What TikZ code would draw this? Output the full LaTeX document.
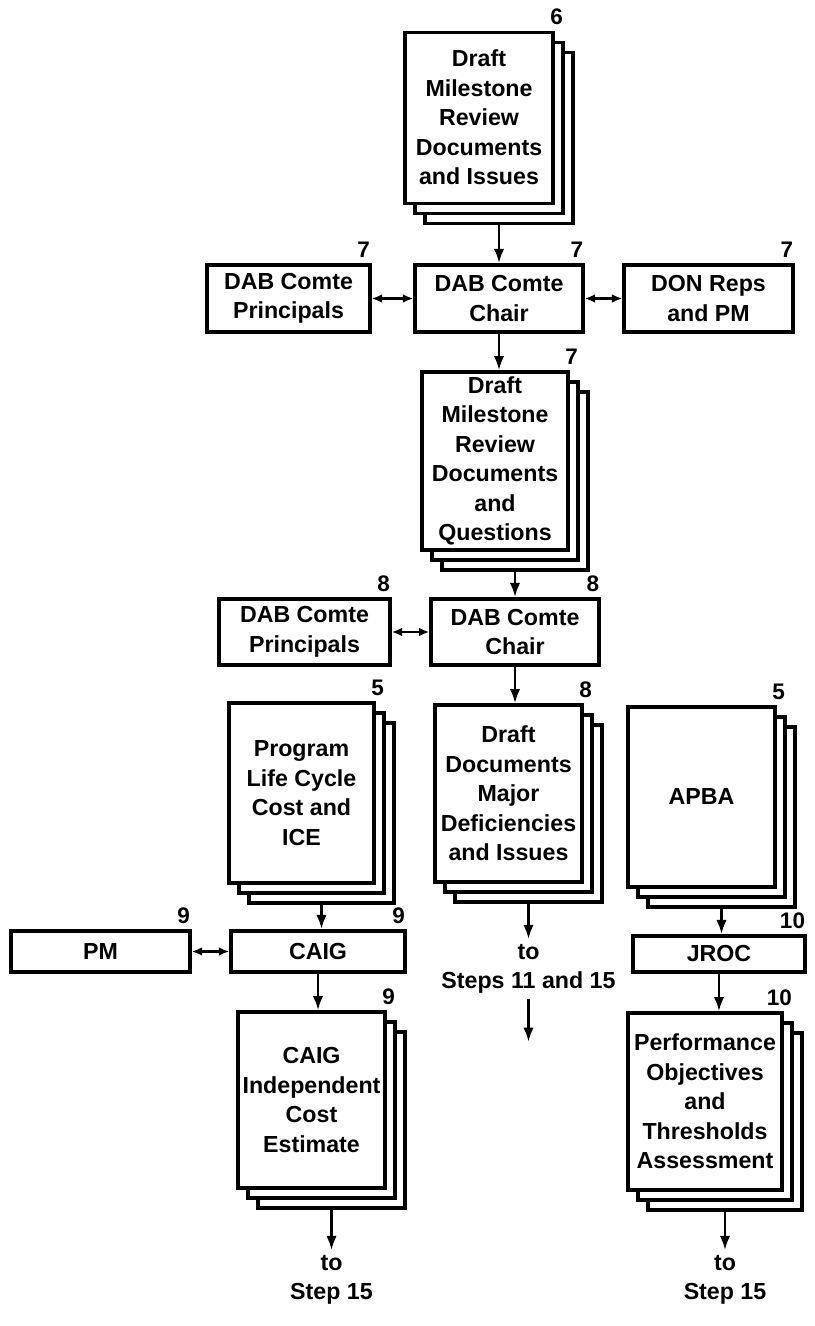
\documentclass[tikz,border=0pt]{standalone}
\usepackage{fontspec}
\setmainfont{Liberation Sans}
\usetikzlibrary{positioning,arrows.meta}

\newcommand{\boxfont}{\bfseries\fontsize{16.5}{21}\selectfont}

\tikzset{
  box/.style={draw, line width=2.4pt, fill=white, align=center, font=\boxfont, inner sep=2pt},
  page/.style={draw, line width=2.2pt, fill=white, align=center, font=\boxfont, inner sep=1pt,
    preaction={draw, fill=white, line width=2.2pt, transform canvas={shift={(0.5,-0.5)}}},
    preaction={draw, fill=white, line width=2.2pt, transform canvas={shift={(0.25,-0.25)}}}},
  numlbl/.style={font=\bfseries\fontsize{16}{19}\selectfont, inner sep=1pt, anchor=south east},
  note/.style={align=center, font=\boxfont},
  flow/.style={-{Latex[length=3.6mm,width=2.6mm]}, line width=2pt},
  link/.style={{Latex[length=2.6mm,width=2.2mm]}-{Latex[length=2.6mm,width=2.2mm]}, line width=2pt}
}

\begin{document}
\begin{tikzpicture}
  \useasboundingbox (0,0) rectangle (20.35,-33.15);

  % step 6 and 7
  \node[page, minimum width=3.7cm, minimum height=4.275cm] (doc6) at (11.975,-2.94)
    {Draft\\Milestone\\Review\\Documents\\and Issues};
  \node[box, minimum width=4.075cm, minimum height=1.675cm] (prin7) at (7.2125,-7.4625) {DAB Comte\\Principals};
  \node[box, minimum width=4.2cm, minimum height=1.675cm] (chair7) at (12.475,-7.4625) {DAB Comte\\Chair};
  \node[box, minimum width=4.225cm, minimum height=1.675cm] (don7) at (17.7125,-7.4625) {DON Reps\\and PM};
  \node[page, minimum width=3.65cm, minimum height=4.45cm] (doc7) at (12.375,-11.525)
    {Draft\\Milestone\\Review\\Documents\\and\\Questions};

  % step 8
  \node[box, minimum width=4.275cm, minimum height=1.65cm] (prin8) at (7.6125,-15.8) {DAB Comte\\Principals};
  \node[box, minimum width=4.2cm, minimum height=1.65cm] (chair8) at (12.875,-15.8) {DAB Comte\\Chair};
  \node[page, minimum width=3.675cm, minimum height=4.425cm] (doc8) at (12.7125,-19.8375)
    {Draft\\Documents\\Major\\Deficiencies\\and Issues};
  \node[note] (to8) at (13.2125,-24.225) {to\\Steps 11 and 15};
  \coordinate (end8) at (13.2125,-26.05);

  % step 9
  \node[page, minimum width=3.625cm, minimum height=4.5cm] (prog5) at (7.5375,-19.825)
    {Program\\Life Cycle\\Cost and\\ICE};
  \node[box, minimum width=4.475cm, minimum height=1.025cm] (pm) at (2.5125,-23.7875) {PM};
  \node[box, minimum width=4.35cm, minimum height=1.025cm] (caig) at (7.95,-23.7875) {CAIG};
  \node[page, minimum width=3.675cm, minimum height=4.4cm] (caigdoc) at (7.7875,-27.5)
    {CAIG\\Independent\\Cost\\Estimate};
  \node[note] (to9) at (8.2875,-32.0) {to\\Step 15};

  % step 10
  \node[page, minimum width=3.675cm, minimum height=4.5cm] (apba) at (17.5375,-19.925) {APBA};
  \node[box, minimum width=4.3cm, minimum height=0.9cm] (jroc) at (17.975,-23.85) {JROC};
  \node[page, minimum width=3.85cm, minimum height=4.425cm] (perf) at (17.625,-27.5375)
    {Performance\\Objectives\\and\\Thresholds\\Assessment};
  \node[note] (to10) at (18.125,-32.0) {to\\Step 15};

  % step numbers
  \node[numlbl] (n6) at ([shift={(0.25,0.1)}]doc6.north east) {6};
  \node[numlbl] (n7a) at ([yshift=0.1cm]prin7.north east) {7};
  \node[numlbl] (n7b) at ([yshift=0.1cm]chair7.north east) {7};
  \node[numlbl] (n7c) at ([yshift=0.1cm]don7.north east) {7};
  \node[numlbl] (n7d) at ([shift={(0.25,0.1)}]doc7.north east) {7};
  \node[numlbl] (n8a) at ([yshift=0.1cm]prin8.north east) {8};
  \node[numlbl] (n8b) at ([yshift=0.1cm]chair8.north east) {8};
  \node[numlbl] (n8c) at ([shift={(0.25,0.1)}]doc8.north east) {8};
  \node[numlbl] (n5a) at ([shift={(0.25,0.1)}]prog5.north east) {5};
  \node[numlbl] (n5b) at ([shift={(0.25,0.1)}]apba.north east) {5};
  \node[numlbl] (n9a) at ([yshift=0.1cm]pm.north east) {9};
  \node[numlbl] (n9b) at ([yshift=0.1cm]caig.north east) {9};
  \node[numlbl] (n9c) at ([shift={(0.25,0.1)}]caigdoc.north east) {9};
  \node[numlbl] (n10a) at ([yshift=0.1cm]jroc.north east) {10};
  \node[numlbl] (n10b) at ([shift={(0.25,0.1)}]perf.north east) {10};

  % connectors
  \draw[flow] ([shift={(0.5,-0.5)}]doc6.south) -- (chair7.north);
  \draw[link] (prin7) -- (chair7);
  \draw[link] (chair7) -- (don7);
  \draw[flow] (chair7.south) -- (chair7.south |- doc7.north);
  \draw[flow] ([shift={(0.5,-0.5)}]doc7.south) coordinate (d7) -- (d7 |- chair8.north);
  \draw[link] (prin8) -- (chair8);
  \draw[flow] (chair8.south) -- (chair8.south |- doc8.north);
  \draw[flow] ([shift={(0.5,-0.5)}]doc8.south) -- (to8.north);
  \draw[flow] (to8.south) -- (end8);
  \draw[flow] ([shift={(0.5,-0.5)}]prog5.south) coordinate (p5) -- (p5 |- caig.north);
  \draw[link] (pm) -- (caig);
  \draw[flow] (caig.south) -- (caig.south |- caigdoc.north);
  \draw[flow] ([shift={(0.5,-0.5)}]caigdoc.south) -- (to9.north);
  \draw[flow] ([shift={(0.5,-0.5)}]apba.south) coordinate (a5) -- (a5 |- jroc.north);
  \draw[flow] (jroc.south) -- (jroc.south |- perf.north);
  \draw[flow] ([shift={(0.5,-0.5)}]perf.south) -- (to10.north);
\end{tikzpicture}
\end{document}
